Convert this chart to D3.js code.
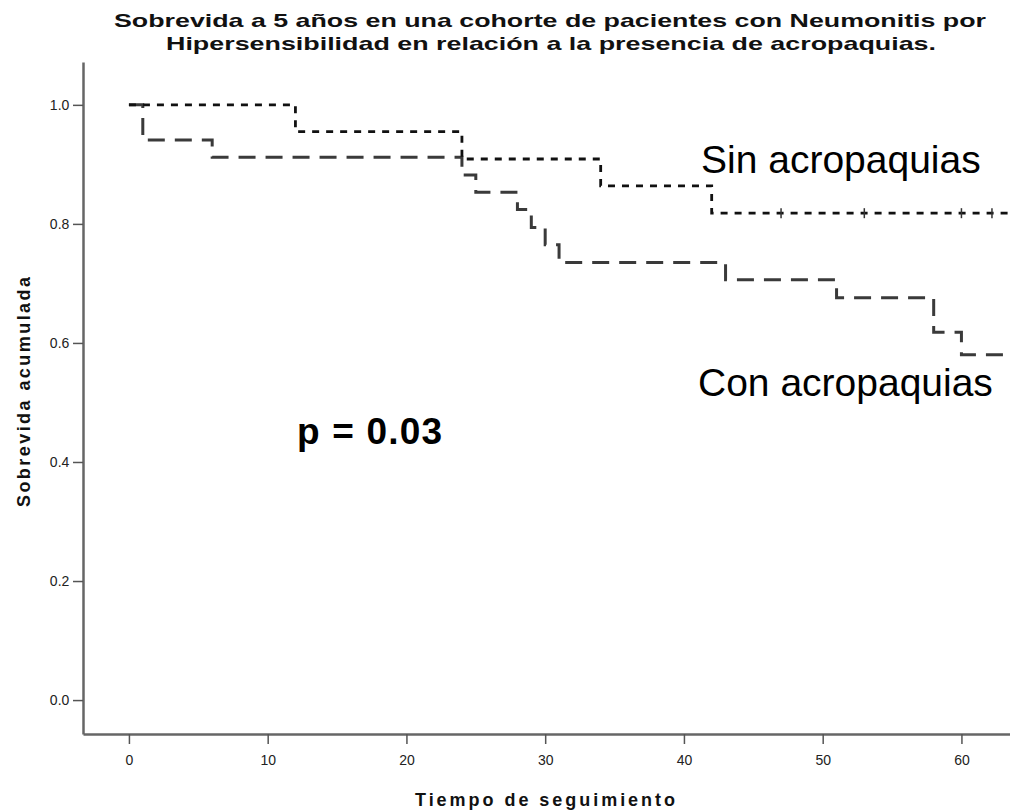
<!DOCTYPE html>
<html>
<head>
  <meta charset="utf-8">
  <title>Sobrevida a 5 años - acropaquias</title>
  <script src="https://d3js.org/d3.v7.min.js"></script>
  <style>
    body { margin: 0; background: #fff; font-family: 'Liberation Sans', Arial, sans-serif; }
  </style>
</head>
<body>
  <div id="chart"></div>
  <script>
    // Kaplan-Meier steps
    const sinTimes = [0, 12, 24, 34, 42, 63.4];
    const sinSurv = [1.0, 0.955, 0.909, 0.864, 0.818, 0.818];
    const sinCensored = [47, 53, 60, 62.2];

    const conTimes = [0, 1, 6, 24, 25, 28, 29, 30, 31, 43, 51, 58, 60, 63.4];
    const conSurv = [1.0, 0.941, 0.912, 0.882, 0.853, 0.824, 0.794, 0.765, 0.735, 0.706, 0.676, 0.618, 0.58, 0.58];

    const xTicks = [0, 10, 20, 30, 40, 50, 60];
    const yTicks = [0, 0.2, 0.4, 0.6, 0.8, 1.0];

    const W = 1010, H = 812;
    const svg = d3.select("#chart").append("svg")
      .attr("width", W).attr("height", H);

    const x = d3.scaleLinear().domain([-3.31, 63.5]).range([83, 1010]);
    const y = d3.scaleLinear().domain([-0.057, 1.072]).range([734, 62]);

    // title
    const title = svg.append("g")
      .attr("font-weight", "bold")
      .attr("font-size", 19)
      .attr("fill", "#111");
    title.append("text")
      .attr("x", 114).attr("y", 27)
      .attr("textLength", 872).attr("lengthAdjust", "spacingAndGlyphs")
      .text("Sobrevida a 5 años en una cohorte de pacientes con Neumonitis por");
    title.append("text")
      .attr("x", 166).attr("y", 50)
      .attr("textLength", 770).attr("lengthAdjust", "spacingAndGlyphs")
      .text("Hipersensibilidad en relación a la presencia de acropaquias.");

    // axes
    const xAxis = svg.append("g")
      .attr("transform", "translate(0,734)")
      .call(d3.axisBottom(x).tickValues(xTicks).tickFormat(d3.format("d")).tickSize(10).tickSizeOuter(0));
    const yAxis = svg.append("g")
      .attr("transform", "translate(83,0)")
      .call(d3.axisLeft(y).tickValues(yTicks).tickFormat(d3.format(".1f")).tickSize(10).tickSizeOuter(0));

    [xAxis, yAxis].forEach(a => {
      a.attr("font-family", "'Liberation Sans', sans-serif").attr("font-size", 14);
      a.select(".domain").attr("stroke", "#666").attr("stroke-width", 2.5);
      a.selectAll(".tick line").attr("stroke", "#555").attr("stroke-width", 1.5);
      a.selectAll(".tick text").attr("fill", "#222");
    });
    xAxis.selectAll(".tick text").attr("dy", "1.25em");
    yAxis.selectAll(".tick text").attr("dx", "-0.05em");

    svg.append("text")
      .attr("x", 415).attr("y", 806)
      .attr("font-weight", "bold").attr("font-size", 18)
      .attr("textLength", 260).attr("lengthAdjust", "spacing")
      .attr("fill", "#111")
      .text("Tiempo de seguimiento");

    svg.append("text")
      .attr("transform", "translate(30,507) rotate(-90)")
      .attr("font-weight", "bold").attr("font-size", 18)
      .attr("textLength", 230).attr("lengthAdjust", "spacing")
      .attr("fill", "#111")
      .text("Sobrevida acumulada");

    const line = d3.line()
      .x(d => x(d[0])).y(d => y(d[1]))
      .curve(d3.curveStepAfter);

    // Con acropaquias
    svg.append("path")
      .datum(d3.zip(conTimes, conSurv))
      .attr("d", line)
      .attr("fill", "none")
      .attr("stroke", "#3a3a3a")
      .attr("stroke-width", 3)
      .attr("stroke-dasharray", "17,10");

    // Sin acropaquias
    svg.append("path")
      .datum(d3.zip(sinTimes, sinSurv))
      .attr("d", line)
      .attr("fill", "none")
      .attr("stroke", "#111")
      .attr("stroke-width", 2.8)
      .attr("stroke-dasharray", "7,7");

    svg.selectAll(".censor")
      .data(sinCensored)
      .enter().append("line")
      .attr("class", "censor")
      .attr("x1", d => x(d)).attr("x2", d => x(d))
      .attr("y1", y(0.818) - 5).attr("y2", y(0.818) + 5)
      .attr("stroke", "#333").attr("stroke-width", 1.5);

    // annotations
    svg.append("text")
      .attr("x", 701).attr("y", 173)
      .attr("font-size", 39).attr("fill", "#000")
      .text("Sin acropaquias");
    svg.append("text")
      .attr("x", 698).attr("y", 396)
      .attr("font-size", 39).attr("fill", "#000")
      .text("Con acropaquias");
    svg.append("text")
      .attr("x", 297).attr("y", 444)
      .attr("font-size", 37).attr("font-weight", "bold").attr("fill", "#000")
      .attr("textLength", 145).attr("lengthAdjust", "spacing")
      .text("p = 0.03");
  </script>
</body>
</html>
